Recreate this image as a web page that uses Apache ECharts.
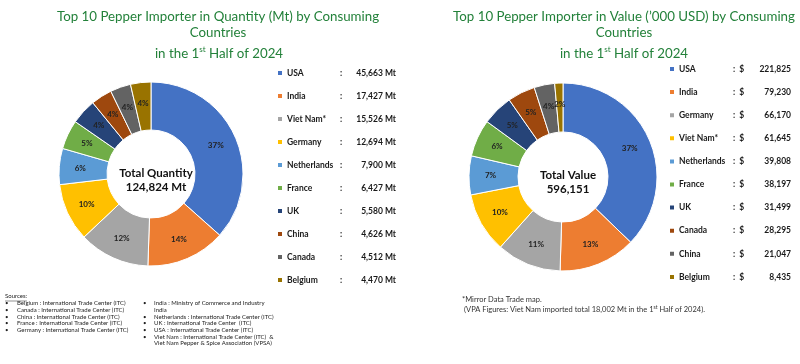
<!DOCTYPE html>
<html><head><meta charset="utf-8">
<script src="https://cdn.jsdelivr.net/npm/echarts@6/dist/echarts.min.js"></script>
<style>html,body{margin:0;padding:0;background:#fff}#c{width:800px;height:364px}</style>
</head><body><div id="c"></div>
<script>
// ---- data ----
const qtyNames = ['USA','India','Viet Nam*','Germany','Netherlands','France','UK','China','Canada','Belgium'];
const qtyValues = [45663,17427,15526,12694,7900,6427,5580,4626,4512,4470];
const qtyPctLabels = ['37%','14%','12%','10%','6%','5%','4%','4%','4%','4%'];
const qtyTotalLabel = '124,824 Mt';

const valNames = ['USA','India','Germany','Viet Nam*','Netherlands','France','UK','Canada','China','Belgium'];
const valValues = [221825,79230,66170,61645,39808,38197,31499,28295,21047,8435];
const valPctLabels = ['37%','13%','11%','10%','7%','6%','5%','5%','4%','2%'];
const valTotalLabel = '596,151';

const palette = ['#4472C4','#ED7D31','#A5A5A5','#FFC000','#5B9BD5','#70AD47','#264478','#9E480E','#636363','#997300'];

const sourcesLeft = ['Belgium : International Trade Center (ITC)','Canada : International Trade Center (ITC)','China : International Trade Center (ITC)','France : International Trade Center (ITC)','Germany : International Trade Center (ITC)'];
const sourcesRight = ['India : Ministry of Commerce and Industry','India','Netherlands : International Trade Center (ITC)','UK : International Trade Center  (ITC)','USA : International Trade Center (ITC)','Viet Nam : International Trade Center (ITC)  &','Viet Nam Pepper & Spice Association (VPSA)'];
const bulletRight = [true,false,true,true,true,true,false];

const FONT = 'Lato';
const GREEN = '#23813a';
const fmt = n => n.toLocaleString('en-US');

const chart = echarts.init(document.getElementById('c'), null, {renderer:'canvas'});

function pieSeries(names, values, pcts, center, radius) {
  return {
    type:'pie', center: center, radius: radius, startAngle: 90, clockwise: true,
    silent: true, animation: false,
    itemStyle: {borderColor:'#fff', borderWidth:1},
    label: {show:true, position:'inside', fontFamily:FONT, fontSize:8, fontWeight:'bold', color:'#222',
      formatter: p => pcts[p.dataIndex]},
    labelLine: {show:false},
    data: names.map((n,i)=>({name:n, value:values[i], itemStyle:{color:palette[i]}}))
  };
}

function legendData(names) {
  return names.map((n,i)=>({name:n, itemStyle:{color:palette[i]}}));
}

const TS = 13.3;
const titleStyleBase = {fontFamily:FONT, fontSize:TS, fontWeight:'normal', color:GREEN, lineHeight:16};
const supRich = {
  a:{fontFamily:FONT, fontSize:TS, fontWeight:'normal', color:GREEN, lineHeight:18},
  s:{fontFamily:FONT, fontSize:8, fontWeight:'normal', color:GREEN, verticalAlign:'top', lineHeight:18, padding:[0,0,6,0]}
};

const legRich = (nw, cw, vw) => ({
  n:{fontFamily:FONT, fontSize:8.5, fontWeight:'bold', color:'#1a1a1a', width:nw, lineHeight:12},
  c:{fontFamily:FONT, fontSize:8.5, fontWeight:'bold', color:'#1a1a1a', width:cw, lineHeight:12},
  v:{fontFamily:FONT, fontSize:8.5, fontWeight:'bold', color:'#1a1a1a', width:vw, align:'right', lineHeight:12}
});

const option = {
  animation:false,
  title: [
    {text:'Top 10 Pepper Importer in Quantity (Mt) by Consuming\nCountries', left:213, top:4, textAlign:'center', textStyle:titleStyleBase},
    {text:'{a|in the 1}{s|st}{a| Half of 2024}', left:214, top:40, textAlign:'center', textStyle:{rich:supRich}},
    {text:'Top 10 Pepper Importer in Value (\u2019000 USD) by Consuming\nCountries', left:619, top:4, textAlign:'center', textStyle:titleStyleBase},
    {text:'{a|in the 1}{s|st}{a| Half of 2024}', left:619, top:40, textAlign:'center', textStyle:{rich:supRich}},
    {text:'Total Quantity\n'+qtyTotalLabel, left:151, top:161, textAlign:'center', textStyle:{fontFamily:FONT, fontSize:11.5, fontWeight:'bold', color:'#111', lineHeight:14}},
    {text:'Total Value\n'+valTotalLabel, left:563, top:163, textAlign:'center', textStyle:{fontFamily:FONT, fontSize:11.5, fontWeight:'bold', color:'#111', lineHeight:14}}
  ],
  legend: [
    {
      orient:'vertical', left:271, top:62, itemWidth:6, itemHeight:6, itemGap:11, icon:'rect',
      selectedMode:false, data: legendData(qtyNames),
      formatter: name => { const i = qtyNames.indexOf(name); return '{n|'+name+'}{c|:}{v|'+fmt(qtyValues[i])+' Mt}'; },
      textStyle:{padding:[0,0,0,-1], lineHeight:12, rich:legRich(53,12,44)}
    },
    {
      orient:'vertical', left:663, top:58, itemWidth:6, itemHeight:6, itemGap:11.1, icon:'rect',
      selectedMode:false, data: legendData(valNames),
      formatter: name => { const i = valNames.indexOf(name); return '{n|'+name+'}{c|:  $}{v|'+fmt(valValues[i])+'}'; },
      textStyle:{padding:[0,0,0,-1], lineHeight:12, rich:legRich(54,20,38)}
    }
  ],
  graphic: [
    {type:'text', left:5, top:293, style:{text:'Sources:', font:'6px '+FONT, fill:'#222'}},
    {type:'line', shape:{x1:5, y1:301, x2:27, y2:301}, style:{stroke:'#222', lineWidth:0.5}},
    {type:'text', left:5, top:300, style:{text:sourcesLeft.map(()=> '\u2022').join('\n'), font:'6px '+FONT, fill:'#222', lineHeight:6.7}},
    {type:'text', left:17, top:300, style:{text:sourcesLeft.join('\n'), font:'6px '+FONT, fill:'#222', lineHeight:6.7}},
    {type:'text', left:143, top:300, style:{text:bulletRight.map(b=> b?'\u2022':' ').join('\n'), font:'6px '+FONT, fill:'#222', lineHeight:6.7}},
    {type:'text', left:154, top:300, style:{text:sourcesRight.join('\n'), font:'6px '+FONT, fill:'#222', lineHeight:6.7}},
    {type:'text', left:462, top:296, style:{text:'*Mirror Data Trade map.', font:'7.5px '+FONT, fill:'#333'}},
    {type:'text', left:464, top:305, style:{text:'{a|(VPA Figures: Viet Nam imported total 18,002 Mt in the 1}{s|st}{a| Half of 2024).}',
      rich:{a:{font:'7.5px '+FONT, fill:'#333', lineHeight:10}, s:{font:'5px '+FONT, fill:'#333', verticalAlign:'top', lineHeight:10, padding:[0,0,3,0]}}}}
  ],
  series: [
    pieSeries(qtyNames, qtyValues, qtyPctLabels, [151,174], [44,92]),
    pieSeries(valNames, valValues, valPctLabels, [563,177], [45,94])
  ]
};
chart.setOption(option);
</script>
</body></html>
